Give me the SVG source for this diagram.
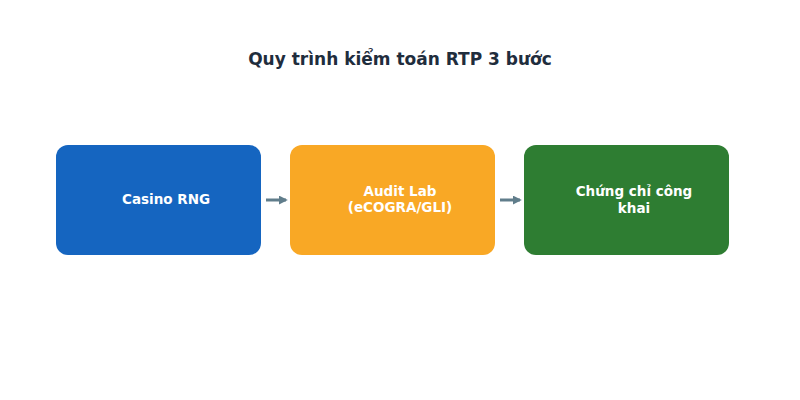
<svg xmlns="http://www.w3.org/2000/svg" width="800" height="400" viewBox="0 0 800 400">
<style>
.t{font-family:"DejaVu Sans","Noto Sans",sans-serif;font-weight:bold;font-size:13.5px;fill:#fff;text-anchor:middle}
.c{stroke:#607d8b;stroke-width:3;fill:none;marker-end:url(#a)}
</style>
<defs><marker id="a" viewBox="0 0 10 10" refX="8" refY="5" markerWidth="3" markerHeight="3" orient="auto"><path d="M0,0L10,5L0,10z" fill="#607d8b"/></marker></defs>
<rect width="800" height="400" fill="#fff"/>
<text x="400" y="65" style="font-family:'DejaVu Sans',sans-serif;font-weight:bold;font-size:17px;fill:#1f2d3d;text-anchor:middle">Quy trình kiểm toán RTP 3 bước</text>
<g id="n1"><rect x="56" y="145" width="205" height="110" rx="12" fill="#1565c0"/><text class="t" x="166" y="204">Casino RNG</text></g>
<g id="n2"><rect x="290" y="145" width="205" height="110" rx="12" fill="#f9a825"/><text class="t" x="400" y="196">Audit Lab</text><text class="t" x="400" y="212">(eCOGRA/GLI)</text></g>
<g id="n3"><rect x="524" y="145" width="205" height="110" rx="12" fill="#2e7d32"/><text class="t" x="634" y="196">Chứng chỉ công</text><text class="t" x="634" y="213">khai</text></g>
<g id="connectors"><path class="c" d="M266,200H286"/><path class="c" d="M500,200H520"/></g>
</svg>
